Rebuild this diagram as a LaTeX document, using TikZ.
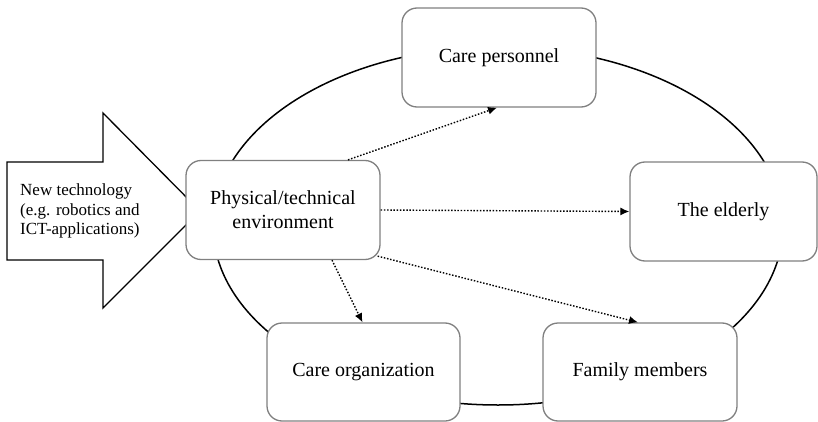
\documentclass[tikz,border=0pt]{standalone}
\usepackage{fontspec}
\setmainfont{Liberation Serif}
\usetikzlibrary{arrows.meta}
\begin{document}
\begin{tikzpicture}[x=1pt,y=-1pt,
  boxnode/.style={draw=black!50, line width=1.3pt, rounded corners=15pt, fill=white,
    minimum width=194pt, minimum height=99pt, inner sep=0pt, align=center,
    font=\fontsize{20}{24}\selectfont},
  dotarrow/.style={line width=1.4pt, dash pattern=on 1.5pt off 1.7pt,
    -{Latex[length=9pt,width=8pt]}, shorten >=0pt},
  bigarrow/.style={draw=black, line width=1.3pt, fill=white, line join=miter}]
\useasboundingbox (0,0) rectangle (818,422);
% surrounding ellipse
\draw[line width=1.5pt] (498,226) ellipse [x radius=285, y radius=179];
% big input arrow
\draw[bigarrow] (7,162) -- (103,162) -- (103,113) -- (200,211) -- (103,308) -- (103,260) -- (7,260) -- cycle;
\node[anchor=west, align=left, inner sep=0pt, font=\fontsize{17}{19.5}\selectfont] (nt) at (20,211)
  {New technology\\(e.g. robotics and\\ICT-applications)};
% boxes
\node[boxnode] (pe) at (283,210) {Physical/technical\\environment};
\node[boxnode] (cp) at (499,57.5) {Care personnel};
\node[boxnode, minimum width=187pt] (el) at (723.5,211.5) {The elderly};
\node[boxnode, minimum width=193pt, minimum height=98pt] (co) at (363.5,372) {Care organization};
\node[boxnode, minimum height=98pt] (fm) at (640,372) {Family members};
% dotted connectors
\draw[dotarrow] ([xshift=65pt]pe.north) -- ([xshift=-2pt]cp.south);
\draw[dotarrow] (pe.east) -- (el.west);
\draw[dotarrow] ([xshift=-3pt,yshift=4pt]pe.south east) -- ([xshift=-2pt]fm.north);
\draw[dotarrow] ([xshift=49pt]pe.south) -- ([xshift=-1pt]co.north);
\end{tikzpicture}
\end{document}
